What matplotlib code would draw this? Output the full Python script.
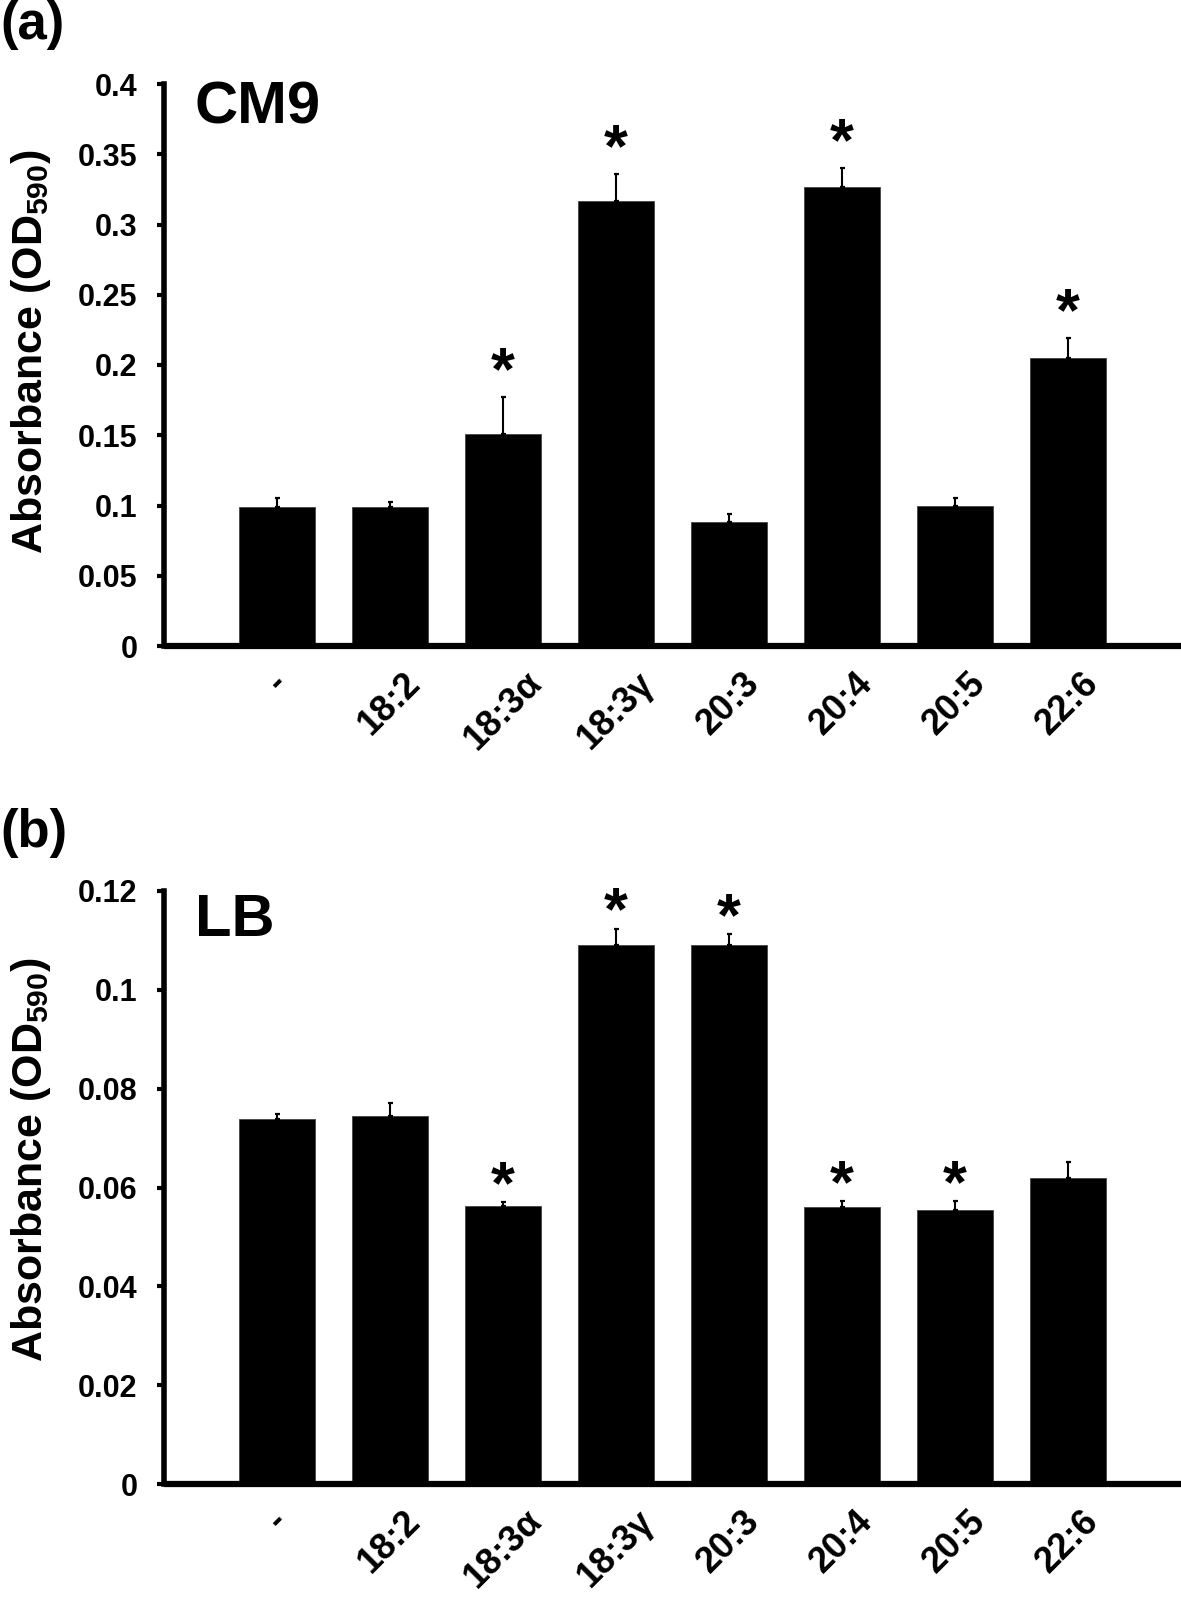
import matplotlib
matplotlib.use("Agg")
import matplotlib.pyplot as plt
import numpy as np

# ---------------- data ----------------
categories = ['-', '18:2', '18:3α', '18:3γ', '20:3', '20:4', '20:5', '22:6']

cm9_values = [0.099, 0.099, 0.151, 0.317, 0.088, 0.327, 0.100, 0.205]
cm9_errors = [0.006, 0.0035, 0.026, 0.019, 0.006, 0.013, 0.005, 0.014]
cm9_signif = [False, False, True, True, False, True, False, True]
cm9_yticks = [0, 0.05, 0.1, 0.15, 0.2, 0.25, 0.3, 0.35, 0.4]
cm9_yticklabels = ['0', '0.05', '0.1', '0.15', '0.2', '0.25', '0.3', '0.35', '0.4']

lb_values = [0.0739, 0.0745, 0.0563, 0.1091, 0.1091, 0.0560, 0.0554, 0.0620]
lb_errors = [0.0010, 0.0027, 0.0007, 0.0033, 0.0021, 0.0012, 0.0018, 0.0032]
lb_signif = [False, False, True, True, True, True, True, False]
lb_yticks = [0, 0.02, 0.04, 0.06, 0.08, 0.1, 0.12]
lb_yticklabels = ['0', '0.02', '0.04', '0.06', '0.08', '0.1', '0.12']

# ---------------- style ----------------
plt.rcParams['font.family'] = ['Liberation Sans', 'DejaVu Sans']
plt.rcParams['font.weight'] = 'bold'
plt.rcParams['mathtext.default'] = 'regular'

W, H = 1181, 1609
fig = plt.figure(figsize=(W / 100, H / 100), dpi=100)


def panel(rect, values, errors, signif, yticks, yticklabels, ymax, name,
          name_top, star_off):
    ax = fig.add_axes(rect)
    x = np.arange(len(categories))
    ax.bar(x, values, width=0.67, color='black', edgecolor='#444444',
           linewidth=0.6, zorder=2)
    ax.errorbar(x, values, yerr=[np.zeros(len(errors)), errors], fmt='none',
                ecolor='black', elinewidth=1.5, capsize=1.8, capthick=1.6,
                zorder=3)
    for xi, v, e, s in zip(x, values, errors, signif):
        if s:
            ax.annotate('*', xy=(xi, v + e), xytext=(0, star_off),
                        textcoords='offset points', ha='center', va='center',
                        fontsize=44, fontweight='bold')
    ax.set_xlim(-1.0, 8.0)
    ax.set_ylim(0, ymax)
    ax.set_yticks(yticks)
    ax.set_yticklabels(yticklabels, fontsize=22, fontweight='bold')
    ax.set_xticks(x)
    ax.set_xticklabels(categories, fontsize=26, fontweight='bold',
                       rotation=45, ha='center', va='top')
    ax.tick_params(axis='x', length=0, pad=14)
    ax.tick_params(axis='y', direction='out', length=5, width=3, pad=14)
    for s in ('top', 'right'):
        ax.spines[s].set_visible(False)
    ax.spines['left'].set_linewidth(4)
    ax.spines['bottom'].set_linewidth(4.5)
    ax.spines['bottom'].set_capstyle('butt')
    ax.text(0.030, name_top, name, transform=ax.transAxes, fontsize=43,
            fontweight='bold', ha='left', va='top')
    return ax


ax1 = panel([164 / W, 1 - 646 / H, 1017 / W, (646 - 84) / H],
            cm9_values, cm9_errors, cm9_signif, cm9_yticks, cm9_yticklabels,
            0.4, 'CM9', 1.006, 17)
ax2 = panel([164 / W, 1 - 1484 / H, 1017 / W, (1484 - 891) / H],
            lb_values, lb_errors, lb_signif, lb_yticks, lb_yticklabels,
            0.12, 'LB', 0.996, 10.5)

fig.text(31 / W, 1 - 352 / H, 'Absorbance (OD$_{590}$)', rotation=90,
         ha='center', va='center', fontsize=31, fontweight='bold')
fig.text(31 / W, 1 - 1160 / H, 'Absorbance (OD$_{590}$)', rotation=90,
         ha='center', va='center', fontsize=31, fontweight='bold')

fig.text(0.0, 1.0, '(a)', ha='left', va='top', fontsize=38, fontweight='bold')
fig.text(0.0, 1 - 808 / H, '(b)', ha='left', va='top', fontsize=38,
         fontweight='bold')

fig.savefig('out.png', dpi=100, facecolor='white')
